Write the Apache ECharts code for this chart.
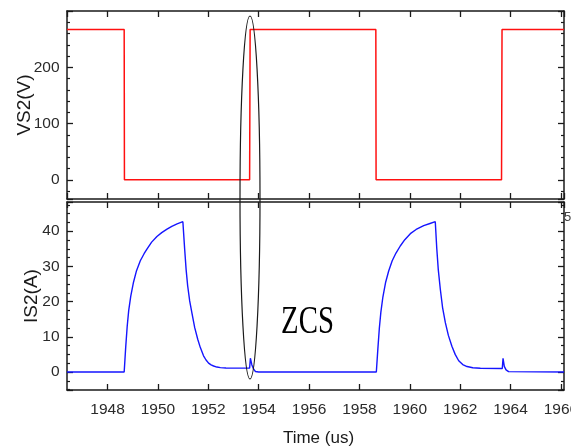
<!DOCTYPE html>
<html>
<head>
<meta charset="utf-8">
<script src="https://cdn.jsdelivr.net/npm/echarts@6/dist/echarts.min.js"></script>
<style>
html,body{margin:0;padding:0;background:#fff;}
#chart{width:571px;height:446px;}
</style>
</head>
<body>
<div id="chart"></div>
<script>
// Time axis range (us)
var timeMin = 1946.39;
var timeMax = 1966.12;

// VS2 (V) waveform: time points and values
var vsTime  = [1946.39, 1948.66, 1948.67, 1953.64, 1953.66, 1958.65, 1958.66, 1963.64, 1963.66, 1966.12];
var vsValue = [267, 267, 0.3, 0.3, 267, 267, 0.3, 0.3, 267, 267];

// IS2 (A) waveform: time points and values
var isTime = [1946.39, 1948.66, 1948.72, 1948.78, 1948.84, 1948.92, 1949.03, 1949.15, 1949.30, 1949.45, 1949.57, 1949.75, 1949.96, 1950.15, 1950.36, 1950.55, 1950.76, 1950.99,
              1951.06, 1951.12, 1951.18, 1951.26, 1951.35, 1951.46, 1951.58, 1951.68, 1951.81, 1951.91, 1952.01, 1952.11, 1952.21, 1952.34, 1952.48, 1952.7, 1953.0, 1953.64,
              1953.67, 1953.73, 1953.80, 1953.87, 1954.0,
              1958.67, 1958.73, 1958.79, 1958.85, 1958.93, 1959.04, 1959.16, 1959.30, 1959.45, 1959.62, 1959.80, 1960.02, 1960.25, 1960.55, 1960.80, 1961.01,
              1961.07, 1961.13, 1961.21, 1961.30, 1961.41, 1961.53, 1961.67, 1961.80, 1961.94, 1962.1, 1962.27, 1962.5, 1962.80, 1963.67,
              1963.70, 1963.75, 1963.82, 1963.92, 1966.12];
var isValue = [0, 0, 7, 13, 17.5, 21.5, 25.5, 28.8, 31.6, 33.6, 35.0, 36.9, 38.5, 39.6, 40.6, 41.4, 42.1, 42.7,
               35, 29, 24.5, 20.2, 16.7, 12.6, 9.3, 7.0, 4.6, 3.4, 2.5, 2.0, 1.7, 1.4, 1.25, 1.15, 1.1, 1.1,
               3.9, 2.0, 0.8, 0.15, 0,
               0, 6.5, 12.5, 17, 21.3, 25.5, 28.7, 31.6, 33.8, 35.8, 37.6, 39.3, 40.5, 41.6, 42.2, 42.7,
               35, 29, 23.5, 18.3, 14.0, 10.4, 7.3, 5.0, 3.2, 2.1, 1.55, 1.2, 1.05, 1.0,
               3.9, 1.6, 0.6, 0.1, 0];

// Axis ranges
var vsMin = -33.7, vsMax = 300;
var isMin = -5.12, isMax = 48.3;

// Annotation text
var annotationText = 'ZCS';

function pairs(t, v) { return t.map(function (x, i) { return [x, v[i]]; }); }

var labelFont = "'Liberation Sans', Arial, sans-serif";
var nameFont = "'Liberation Sans', Arial, sans-serif";
var axisColor = '#1a1a1a';
function fmt(v) { return String(Math.round(v * 1000) / 1000); }

function xAx(grid, pos, showLabels, name) {
  return {
    type: 'value', gridIndex: grid, position: pos, min: timeMin, max: timeMax,
    splitNumber: 10,
    axisLine: { show: true, onZero: false, lineStyle: { color: axisColor, width: 1.5 } },
    axisTick: { show: true, inside: true, length: 6, lineStyle: { color: axisColor, width: 1.3 } },
    axisLabel: { show: showLabels, showMinLabel: false, showMaxLabel: false, color: '#2a2a2a',
                 fontFamily: labelFont, fontSize: 15.5, margin: 12, formatter: fmt, hideOverlap: false },
    splitLine: { show: false },
    name: name || '', nameLocation: 'middle', nameGap: 40, nameMoveOverlap: false,
    nameTextStyle: { fontFamily: nameFont, fontSize: 17, color: '#1a1a1a', padding: [0, 0, 0, 6] }
  };
}
function yAx(grid, pos, min, max, split, minorSplit, showLabels, name, nameGap) {
  return {
    type: 'value', gridIndex: grid, position: pos, min: min, max: max, splitNumber: split,
    axisLine: { show: true, onZero: false, lineStyle: { color: axisColor, width: 1.5 } },
    axisTick: { show: true, inside: true, length: 6, lineStyle: { color: axisColor, width: 1.3 } },
    minorTick: { show: true, splitNumber: minorSplit, length: 3, lineStyle: { color: axisColor, width: 1.2 } },
    axisLabel: { show: showLabels, showMinLabel: false, showMaxLabel: false, color: '#2a2a2a',
                 fontFamily: labelFont, fontSize: 15.5, margin: 7.5, formatter: fmt },
    splitLine: { show: false }, minorSplitLine: { show: false },
    name: name || '', nameLocation: 'middle', nameGap: nameGap || 30, nameMoveOverlap: false,
    nameTextStyle: { fontFamily: nameFont, fontSize: 19, color: '#1a1a1a' }
  };
}

var chart = echarts.init(document.getElementById('chart'), null, { renderer: 'canvas' });
chart.setOption({
  animation: false,
  backgroundColor: '#ffffff',
  grid: [
    { left: 67, right: 7, top: 11, height: 188, containLabel: false, outerBoundsMode: 'none' },
    { left: 67, right: 7, top: 202, height: 188, containLabel: false, outerBoundsMode: 'none' }
  ],
  xAxis: [
    xAx(0, 'bottom', false),
    xAx(0, 'top', false),
    xAx(1, 'bottom', true, 'Time (us)'),
    xAx(1, 'top', false)
  ],
  yAxis: [
    yAx(0, 'left', vsMin, vsMax, 4, 5, true, 'VS2(V)', 33),
    yAx(0, 'right', vsMin, vsMax, 4, 5, false),
    yAx(1, 'left', isMin, isMax, 5, 4, true, 'IS2(A)', 26),
    yAx(1, 'right', isMin, isMax, 5, 4, false)
  ],
  series: [
    { type: 'line', xAxisIndex: 0, yAxisIndex: 0, data: pairs(vsTime, vsValue), showSymbol: false,
      lineStyle: { color: '#ff1010', width: 1.5 }, itemStyle: { color: '#ff1010' } },
    { type: 'line', xAxisIndex: 2, yAxisIndex: 2, data: pairs(isTime, isValue), showSymbol: false,
      lineStyle: { color: '#1515ff', width: 1.4 }, itemStyle: { color: '#1515ff' } }
  ],
  graphic: [
    { type: 'ellipse', z: 100, shape: { cx: 250, cy: 197.5, rx: 10, ry: 181.5 },
      style: { fill: 'none', stroke: '#1a1a1a', lineWidth: 1.2 } },
    { type: 'text', z: 100, x: 307.5, y: 322, scaleX: 0.72, originX: 0, originY: 0,
      style: { text: annotationText, fontFamily: "'Liberation Serif', 'Times New Roman', serif", fontSize: 40,
               fill: '#000', textAlign: 'center', textVerticalAlign: 'middle' } },
    { type: 'text', z: 100, x: 564, y: 217,
      style: { text: '5', fontFamily: nameFont, fontSize: 13, fill: '#444', textAlign: 'left', textVerticalAlign: 'middle' } }
  ]
});
</script>
</body>
</html>
